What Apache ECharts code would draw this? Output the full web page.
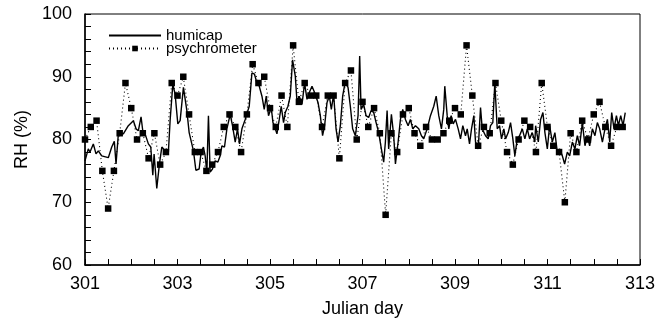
<!DOCTYPE html>
<html>
<head>
<meta charset="utf-8">
<script src="https://cdn.jsdelivr.net/npm/echarts@6/dist/echarts.min.js"></script>
<style>
  html, body { margin: 0; padding: 0; background: #fff; }
  #main { width: 670px; height: 323px; }
</style>
</head>
<body>
<div id="main"></div>
<script>
// psychrometer readings, every 3 hours
const psyDays = [
  301.000, 301.125, 301.250, 301.375, 301.500, 301.625, 301.750, 301.875,
  302.000, 302.125, 302.250, 302.375, 302.500, 302.625, 302.750, 302.875,
  303.000, 303.125, 303.250, 303.375, 303.500, 303.625, 303.750, 303.875,
  304.000, 304.125, 304.250, 304.375, 304.500, 304.625, 304.750, 304.875,
  305.000, 305.125, 305.250, 305.375, 305.500, 305.625, 305.750, 305.875,
  306.000, 306.125, 306.250, 306.375, 306.500, 306.625, 306.750, 306.875,
  307.000, 307.125, 307.250, 307.375, 307.500, 307.625, 307.750, 307.875,
  308.000, 308.125, 308.250, 308.375, 308.500, 308.625, 308.750, 308.875,
  309.000, 309.125, 309.250, 309.375, 309.500, 309.625, 309.750, 309.875,
  310.000, 310.125, 310.250, 310.375, 310.500, 310.625, 310.750, 310.875,
  311.000, 311.125, 311.250, 311.375, 311.500, 311.625, 311.750, 311.875,
  312.000, 312.125, 312.250, 312.375, 312.500, 312.625
]
const psyRH = [
  80, 82, 83, 75, 69, 75, 81, 89,
  85, 80, 81, 77, 81, 76, 78, 89,
  87, 90, 84, 78, 78, 75, 76, 78,
  82, 84, 82, 78, 84, 92, 89, 90,
  85, 82, 87, 82, 95, 86, 89, 87,
  87, 82, 87, 87, 77, 89, 91, 80,
  86, 82, 85, 81, 68, 81, 78, 84,
  85, 81, 79, 82, 80, 80, 81, 83,
  85, 84, 95, 87, 79, 82, 81, 89,
  83, 78, 76, 80, 83, 82, 78, 89,
  82, 79, 78, 70, 81, 78, 83, 80,
  84, 86, 82, 79, 82, 82
]

// humicap trace
const humDays = [
  301.000, 301.071, 301.108, 301.180, 301.238, 301.288, 301.362, 301.504, 301.578, 301.634,
  301.671, 301.721, 301.829, 301.937, 302.046, 302.104, 302.154, 302.212, 302.249, 302.299,
  302.370, 302.422, 302.466, 302.494, 302.552, 302.609, 302.661, 302.732, 302.803, 302.840,
  302.899, 302.949, 303.007, 303.057, 303.128, 303.202, 303.252, 303.288, 303.345, 303.397,
  303.468, 303.511, 303.561, 303.598, 303.635, 303.669, 303.706, 303.756, 303.815, 303.873,
  303.923, 303.960, 304.016, 304.068, 304.139, 304.189, 304.248, 304.297, 304.341, 304.393,
  304.464, 304.551, 304.609, 304.665, 304.717, 304.767, 304.826, 304.875, 304.919, 304.968,
  305.027, 305.064, 305.114, 305.150, 305.200, 305.243, 305.293, 305.330, 305.388, 305.438,
  305.488, 305.547, 305.583, 305.633, 305.692, 305.748, 305.800, 305.850, 305.908, 305.964,
  306.038, 306.088, 306.137, 306.181, 306.233, 306.283, 306.326, 306.376, 306.428, 306.471,
  306.521, 306.571, 306.629, 306.687, 306.737, 306.787, 306.846, 306.904, 306.939, 306.969,
  307.025, 307.077, 307.133, 307.185, 307.242, 307.294, 307.350, 307.408, 307.458, 307.495,
  307.532, 307.566, 307.625, 307.675, 307.712, 307.770, 307.820, 307.870, 307.928, 307.986,
  308.036, 308.086, 308.145, 308.216, 308.274, 308.324, 308.398, 308.469, 308.541, 308.593,
  308.649, 308.707, 308.757, 308.779, 308.831, 308.866, 308.917, 308.961, 309.011, 309.069,
  309.119, 309.169, 309.227, 309.264, 309.314, 309.357, 309.407, 309.444, 309.502, 309.552,
  309.589, 309.660, 309.718, 309.768, 309.818, 309.861, 309.913, 309.963, 310.006, 310.056,
  310.093, 310.151, 310.201, 310.251, 310.294, 310.346, 310.396, 310.455, 310.511, 310.563,
  310.613, 310.671, 310.727, 310.743, 310.801, 310.851, 310.901, 310.944, 310.996, 311.046,
  311.104, 311.160, 311.212, 311.262, 311.321, 311.370, 311.429, 311.479, 311.537, 311.593,
  311.645, 311.695, 311.754, 311.810, 311.862, 311.912, 311.970, 312.026, 312.078, 312.128,
  312.187, 312.243, 312.295, 312.345, 312.388, 312.438, 312.490, 312.533, 312.583, 312.633,
  312.681
]
const humRH = [
  76.6, 78.5, 78.0, 79.3, 77.7, 78.2, 77.4, 77.1, 78.8, 79.7,
  76.1, 80.9, 80.9, 82.2, 83.0, 81.7, 81.4, 83.6, 81.4, 80.9,
  79.3, 78.8, 74.3, 77.7, 72.2, 76.1, 78.8, 78.2, 78.0, 83.0,
  88.8, 87.2, 82.5, 83.0, 88.3, 84.6, 81.1, 81.4, 78.2, 75.1,
  75.3, 78.0, 78.8, 77.4, 74.8, 83.8, 74.8, 75.3, 76.6, 76.4,
  77.4, 79.0, 78.8, 81.7, 84.0, 82.2, 79.6, 81.7, 79.3, 81.7,
  83.2, 85.3, 90.6, 90.4, 89.0, 88.5, 86.9, 84.8, 86.9, 83.8,
  85.1, 82.7, 81.7, 80.9, 83.2, 85.3, 82.7, 84.3, 85.3, 86.9,
  92.7, 90.1, 86.1, 86.9, 85.6, 89.0, 86.4, 87.5, 88.5, 87.5,
  85.9, 83.8, 80.6, 82.2, 85.9, 86.9, 84.8, 87.2, 81.7, 79.6,
  82.2, 86.9, 89.3, 88.3, 85.3, 81.7, 80.6, 83.8, 93.3, 84.8,
  85.6, 83.8, 83.5, 84.6, 84.3, 82.7, 81.1, 78.5, 76.4, 79.6,
  84.6, 78.5, 84.0, 80.6, 76.1, 79.6, 83.2, 84.8, 83.2, 82.2,
  83.2, 81.7, 82.2, 81.7, 80.6, 80.1, 81.7, 83.8, 85.3, 86.9,
  83.8, 81.7, 84.8, 88.5, 83.8, 81.7, 83.8, 82.5, 83.2, 81.7,
  80.1, 82.2, 80.6, 81.7, 79.3, 81.7, 83.8, 79.6, 78.5, 85.1,
  81.7, 80.6, 80.1, 82.2, 82.7, 89.0, 81.7, 82.2, 80.1, 81.7,
  80.1, 81.1, 82.7, 80.1, 77.4, 80.1, 80.6, 81.7, 80.1, 81.7,
  80.1, 81.1, 79.6, 82.2, 79.6, 83.2, 84.3, 81.1, 78.5, 82.2,
  79.6, 81.1, 78.0, 78.5, 77.4, 76.1, 78.0, 77.4, 79.6, 78.5,
  80.6, 79.0, 82.7, 79.0, 80.6, 79.0, 81.7, 80.6, 82.7, 81.7,
  79.6, 81.7, 83.2, 79.6, 84.3, 81.7, 83.8, 82.2, 83.8, 82.2,
  84.3
]

const font = 'Liberation Sans, Arial, sans-serif'

const chart = echarts.init(document.getElementById('main'))

chart.setOption({
  animation: false,
  textStyle: { fontFamily: font, color: '#000' },
  grid: {
    left: 85, right: 30, top: 14, bottom: 56,
    show: true, borderColor: '#000', borderWidth: 1
  },
  legend: {
    orient: 'vertical',
    left: 103, top: 23,
    itemWidth: 52, itemHeight: 7,
    itemGap: -2,
    textStyle: { fontFamily: font, fontSize: 15, color: '#000', lineHeight: 13 },
    data: [
      { name: 'humicap', itemStyle: { opacity: 0 } },
      'psychrometer'
    ]
  },
  xAxis: {
    type: 'value',
    min: 301, max: 313, interval: 2,
    name: 'Julian day',
    nameLocation: 'middle',
    nameGap: 35,
    nameTextStyle: { fontSize: 18, color: '#000', fontFamily: font },
    axisLine: { lineStyle: { color: '#000', width: 1.5 } },
    axisTick: { inside: true, length: 6, lineStyle: { color: '#000' } },
    minorTick: { show: true, splitNumber: 4, length: 6, lineStyle: { color: '#000' } },
    axisLabel: { fontSize: 18, color: '#000', margin: 10 },
    splitLine: { show: false }
  },
  yAxis: {
    type: 'value',
    min: 60, max: 100, interval: 10,
    name: 'RH (%)',
    nameLocation: 'middle',
    nameGap: 48,
    nameTextStyle: { fontSize: 18, color: '#000', fontFamily: font },
    axisLine: { show: true, lineStyle: { color: '#000', width: 1.5 } },
    axisTick: { show: true, inside: true, length: 6, lineStyle: { color: '#000' } },
    minorTick: { show: true, splitNumber: 5, length: 6, lineStyle: { color: '#000' } },
    axisLabel: { fontSize: 18, color: '#000', margin: 13 },
    splitLine: { show: false }
  },
  series: [
    {
      name: 'humicap',
      type: 'line',
      data: humDays.map((d, i) => [d, humRH[i]]),
      symbol: 'none',
      lineStyle: { color: '#000', width: 1.4 },
      itemStyle: { color: '#000' }
    },
    {
      name: 'psychrometer',
      type: 'line',
      data: psyDays.map((d, i) => [d, psyRH[i]]),
      symbol: 'rect',
      symbolSize: 6.5,
      showSymbol: true,
      lineStyle: { color: '#000', width: 1.1, type: [1, 3] },
      itemStyle: { color: '#000' }
    }
  ]
})
</script>
</body>
</html>
